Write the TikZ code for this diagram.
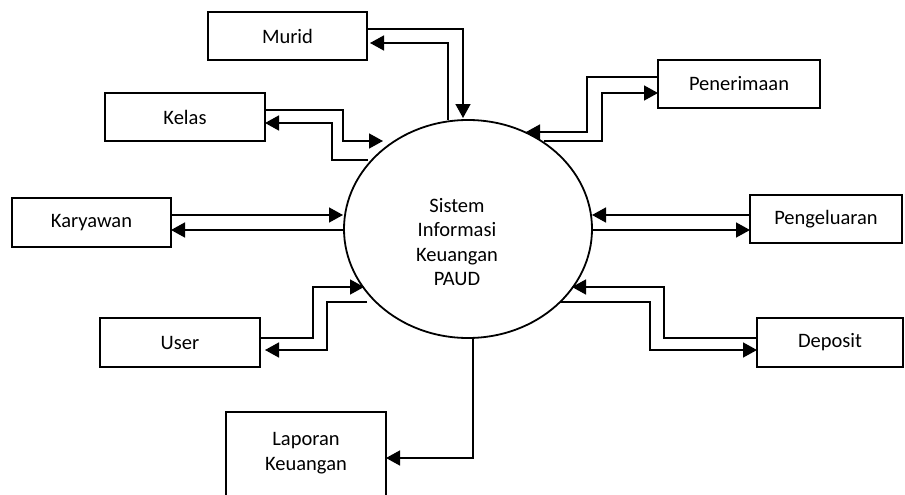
\documentclass[tikz,border=0pt]{standalone}
\usepackage{fontspec}
\setmainfont{Carlito}
\usetikzlibrary{arrows.meta,shapes.geometric}
\begin{document}
\begin{tikzpicture}[x=1pt,y=-1pt,
  font=\fontsize{20.5}{24.5}\selectfont,
  entity/.style={draw,line width=2.2pt,minimum height=48pt,inner sep=0pt,outer sep=0pt,anchor=north west},
  flow/.style={line width=1.5pt,-{Triangle[length=14pt,width=15pt]}},
  label text/.style={align=center,inner sep=0pt}]
\useasboundingbox (0,0) rectangle (905,495);
\clip (0,0) rectangle (905,495);

% external entities
\node[entity,minimum width=159pt] (murid) at (208,12) {Murid};
\node[entity,minimum width=160pt] (kelas) at (105,93) {Kelas};
\node[entity,minimum width=162pt] (pen) at (658,60) {Penerimaan};
\node[entity,minimum width=159pt,minimum height=49pt] (kary) at (12,198) {Karyawan};
\node[entity,minimum width=152pt] (peng) at (750,195) {Pengeluaran};
\node[entity,minimum width=160pt,minimum height=49pt] (user) at (100,318) {User};
\node[entity,minimum width=146pt,minimum height=49pt] (dep) at (757,318) {Deposit};
\node[entity,minimum width=160pt,minimum height=92pt] (lap) at (226,412) {};
\node[label text] (laptxt) at (306,453) {Laporan\\Keuangan};

% the system process
\node[draw,ellipse,line width=1.8pt,minimum width=248pt,minimum height=218pt,inner sep=0pt,outer sep=0pt] (sys) at (468,229) {};
\node[label text] (systxt) at (457,242) {Sistem\\Informasi\\Keuangan\\PAUD};

% flow ends on the process border
\coordinate (sMin) at (463,118);
\coordinate (sMout) at (448,120);
\coordinate (sKin) at (383,141);
\coordinate (sKout) at (368,160);
\coordinate (sPin) at (526,132);
\coordinate (sPout) at (544,141);
\coordinate (sKyin) at (343,215);
\coordinate (sKyout) at (345,230);
\coordinate (sGin) at (592,215);
\coordinate (sGout) at (592,230);
\coordinate (sUin) at (364,287);
\coordinate (sUout) at (367,302);
\coordinate (sDin) at (572,287);
\coordinate (sDout) at (560,302);
\coordinate (sLout) at (473,338);

% data flows
\draw[flow] ([yshift=7pt]murid.east) -| (sMin);
\draw[flow] (sMout) |- ([yshift=-7pt,xshift=3pt]murid.east);

\draw[flow] ([yshift=7pt]kelas.east) -| (343,141) -- (sKin);
\draw[flow] (sKout) -| (332,123) -- ([yshift=-6pt]kelas.east);

\draw[flow] ([yshift=7pt]pen.west) -| (587,132) -- (sPin);
\draw[flow] (sPout) -| (602,93) -- ([yshift=-9pt]pen.west);

\draw[flow] (kary.east |- sKyin) -- (sKyin);
\draw[flow] (sKyout) -- (kary.east |- sKyout);

\draw[flow] (peng.west |- sGin) -- (sGin);
\draw[flow] (sGout) -- (peng.west |- sGout);

\draw[flow] ([yshift=4.5pt]user.east) -| (313,287) -- (sUin);
\draw[flow] (sUout) -| (327,350) -- ([yshift=-7.5pt,xshift=5pt]user.east);

\draw[flow] ([yshift=4.5pt]dep.west) -| (664,287) -- (sDin);
\draw[flow] (sDout) -| (650,350) -- ([yshift=-7.5pt]dep.west);

\draw[flow] (sLout) |- (lap.east);
\end{tikzpicture}
\end{document}
